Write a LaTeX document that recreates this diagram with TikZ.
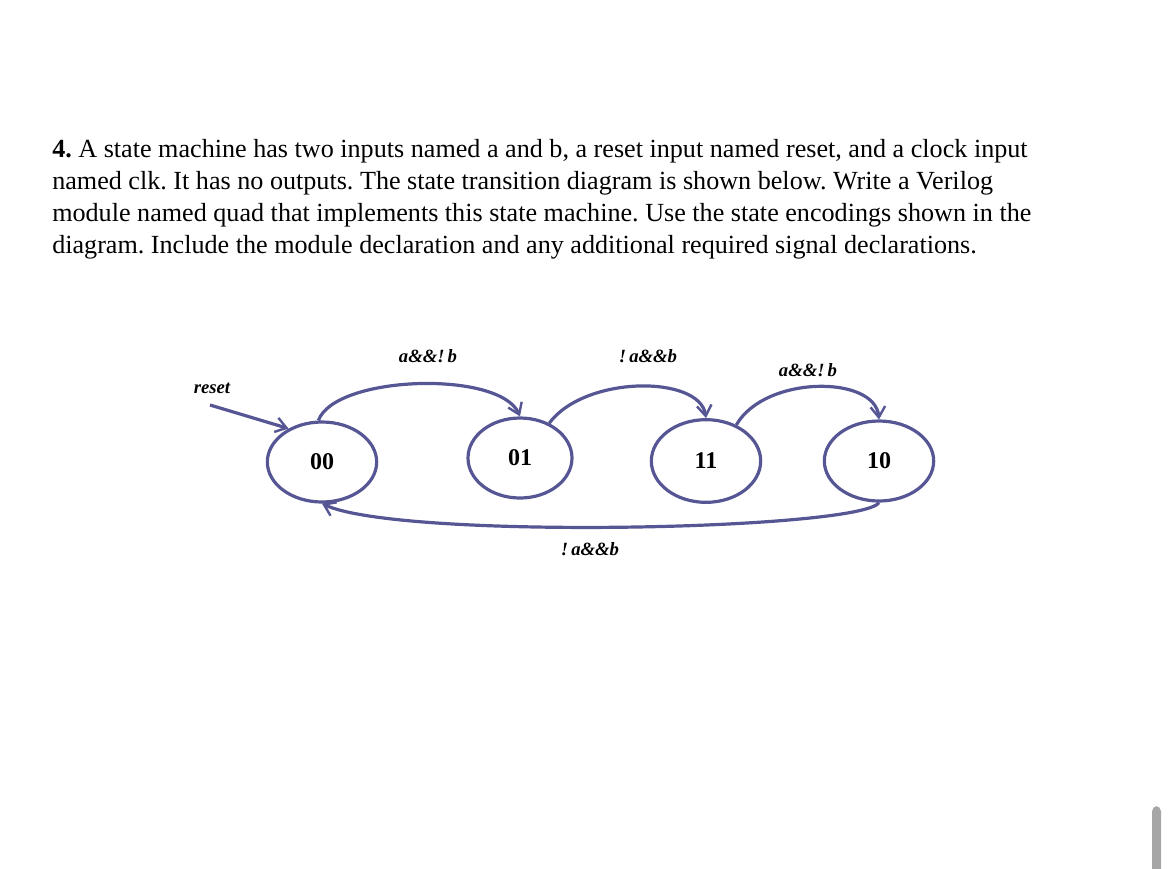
\documentclass[tikz,border=0pt]{standalone}
\usepackage{fontspec}
\setmainfont{Liberation Serif}
\usetikzlibrary{arrows.meta,shapes.geometric}
\definecolor{sm}{HTML}{565695}
\frenchspacing
\begin{document}
\begin{tikzpicture}[x=0.75pt,y=-0.75pt,
  st/.style={draw=sm,line width=2.4pt,ellipse,minimum width=82pt,minimum height=60pt,inner sep=0pt,font=\fontsize{18}{20}\selectfont\bfseries},
  tr/.style={draw=sm,line width=2.4pt,-{Straight Barb[length=8pt,width=11pt,line width=1.8pt]}},
  lbl/.style={font=\fontsize{14}{16}\selectfont\bfseries\itshape}]
\useasboundingbox (0,0) rectangle (1170,868);
\node[anchor=north west,align=left,inner sep=0pt,font=\fontsize{19.6}{24}\selectfont] (q) at (52,139)
{\textbf{4.} A state machine has two inputs named a and b, a reset input named reset, and a clock input\\
named clk. It has no outputs. The state transition diagram is shown below. Write a Verilog\\
module named quad that implements this state machine. Use the state encodings shown in the\\
diagram. Include the module declaration and any additional required signal declarations.};
\node[st] (s00) at (322,462) {00};
\node[st,minimum width=78pt] (s01) at (520,458) {01};
\node[st,minimum height=62pt] (s11) at (706,461) {11};
\node[st] (s10) at (879,461) {10};
\coordinate (r) at (210,405);
\draw[tr] (r) -- (s00.135);
\draw[tr] (s00.95) .. controls (335,375) and (500,370) .. (s01.north);
\draw[tr] (s01.50) .. controls (585,375) and (700,375) .. (s11.north);
\draw[tr] (s11.50) .. controls (765,375) and (875,375) .. (s10.north);
\draw[tr] (s10.south) .. controls (860,530) and (400,540) .. (s00.south);
\node[lbl] (l1) at (428,356) {a\&\&!\,b};
\node[lbl] (l2) at (648,356) {!\,a\&\&b};
\node[lbl] (l3) at (808,370) {a\&\&!\,b};
\node[lbl] (l4) at (212,388) {reset};
\node[lbl] (l5) at (590,549) {!\,a\&\&b};
\fill[gray!70,rounded corners=4pt] (1152,806) rectangle (1161,880);
\end{tikzpicture}
\end{document}
